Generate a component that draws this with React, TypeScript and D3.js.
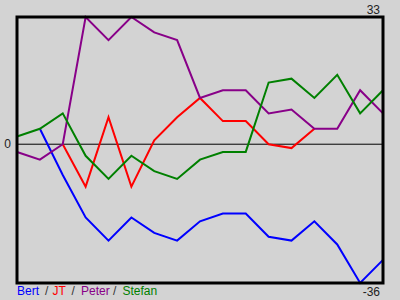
import React from "react";
import * as d3 from "d3";

const weeks = d3.range(0, 17);
const bert: (number | null)[] = [null, 4, -8, -19, -25, -19, -23, -25, -20, -18, -18, -24, -25, -20, -26, -36, -30];
const jt: (number | null)[] = [null, null, 0, -11, 7, -11, 1, 7, 12, 6, 6, 0, -1, 4, null, null, null];
const peter: (number | null)[] = [-2, -4, 0, 33, 27, 33, 29, 27, 12, 14, 14, 8, 9, 4, 4, 14, 8];
const stefan: (number | null)[] = [2, 4, 8, -3, -9, -3, -7, -9, -4, -2, -2, 16, 17, 12, 18, 8, 14];
const seriesNames = ["Bert", "JT", "Peter", "Stefan"];
const seriesColors = ["#0000ff", "#ff0000", "#880088", "#008000"];
const seriesValues = [bert, jt, peter, stefan];
const yMax = 33;
const yMin = -36;

export default function App() {
  const W = 400, H = 300;
  const left = 17, right = 383, top = 17, bottom = 283;
  const x = d3.scaleLinear().domain([0, 16]).range([left, right]);
  const y = d3.scaleLinear().domain([yMin, yMax]).range([bottom, top]);
  const line = d3
    .line<number | null>()
    .defined((d) => d !== null)
    .x((_, i) => x(weeks[i]))
    .y((d) => y(d as number));
  const font = "Liberation Sans, Arial, sans-serif";
  const nameX = [17, 52.5, 81, 122.5];
  const sepX = [45, 71.5, 113];
  return (
    <svg width={W} height={H} style={{ position: "absolute", left: 0, top: 0 }}>
      <rect x={0} y={0} width={W} height={H} fill="#d3d3d3" />
      <line x1={left} x2={right} y1={y(0)} y2={y(0)} stroke="#000" strokeWidth={1} />
      {seriesValues.map((vals, i) => (
        <path key={i} d={line(vals) || ""} fill="none" stroke={seriesColors[i]} strokeWidth={2} strokeLinejoin="miter" />
      ))}
      <rect x={left} y={top} width={right - left} height={bottom - top} fill="none" stroke="#000" strokeWidth={3} />
      <text x={380} y={14} textAnchor="end" fontFamily={font} fontSize={12} fill="#222">{yMax}</text>
      <text x={380} y={296} textAnchor="end" fontFamily={font} fontSize={12} fill="#222">{yMin}</text>
      <text x={11} y={y(0) + 4} textAnchor="end" fontFamily={font} fontSize={12} fill="#222">0</text>
      {seriesNames.map((n, i) => (
        <text key={n} x={nameX[i]} y={295} fontFamily={font} fontSize={12} fill={seriesColors[i]}>{n}</text>
      ))}
      {sepX.map((sx, i) => (
        <text key={i} x={sx} y={295} fontFamily={font} fontSize={12} fill="#333">/</text>
      ))}
    </svg>
  );
}
